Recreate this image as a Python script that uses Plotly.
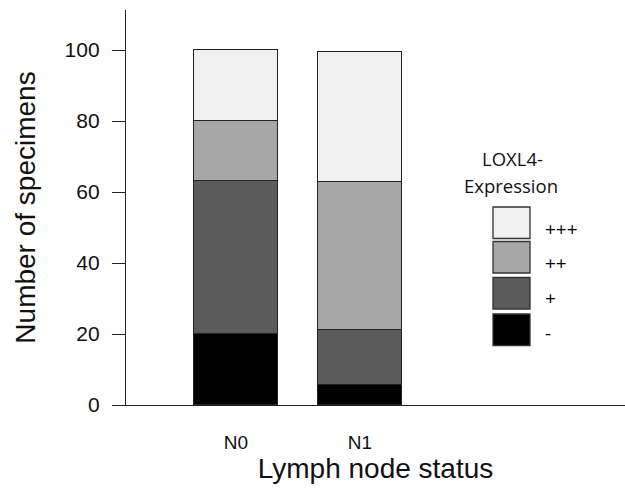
import plotly.graph_objects as go

categories = ["N0", "N1"]
levels = ["-", "+", "++", "+++"]
values_minus = [20.0, 5.6]
values_plus = [43.0, 15.5]
values_pp = [17.0, 41.8]
values_ppp = [20.0, 36.7]
colors = ["#000000", "#5b5b5b", "#a7a7a7", "#f0f0f0"]
y_ticks = [0, 20, 40, 60, 80, 100]

series = [values_minus, values_plus, values_pp, values_ppp]

fig = go.Figure()
for name, vals, col in zip(levels, series, colors):
    fig.add_trace(go.Bar(
        x=[0, 1], y=vals, name=name, width=0.68,
        marker=dict(color=col, line=dict(color="#222222", width=1.3)),
        showlegend=False,
    ))

# manual legend (large swatches)
L, R, T, B = 126, 625, 10, 405
W, H = R - L, B - T
def px(x): return (x - L) / W
def py(y): return (B - y) / H

box_tops = {"+++": 207, "++": 241.5, "+": 277.5, "-": 314}
label_y = {"+++": 229, "++": 263, "+": 298, "-": 333}
shapes = []
annotations = []
for name, col in zip(levels, colors):
    top = box_tops[name]
    shapes.append(dict(type="rect", xref="paper", yref="paper",
                       x0=px(493), x1=px(530), y0=py(top + 31.5), y1=py(top),
                       fillcolor=col, line=dict(color="#333333", width=1.3)))
    annotations.append(dict(text=name, xref="paper", yref="paper",
                            x=px(543), y=py(label_y[name]), xanchor="left", yanchor="middle",
                            showarrow=False, font=dict(family="Open Sans", size=19, color="#000000")))
annotations.append(dict(text="LOXL4-", xref="paper", yref="paper", x=px(512), y=py(158),
                        xanchor="center", yanchor="middle", showarrow=False,
                        font=dict(family="Open Sans", size=18.5, color="#111111")))
annotations.append(dict(text="Expression", xref="paper", yref="paper", x=px(511), y=py(185),
                        xanchor="center", yanchor="middle", showarrow=False,
                        font=dict(family="Open Sans", size=18.5, color="#111111")))

fig.update_layout(
    barmode="stack",
    width=625, height=497,
    margin=dict(l=L, r=625 - R, t=T, b=497 - B),
    paper_bgcolor="white", plot_bgcolor="white",
    shapes=shapes, annotations=annotations,
    bargap=0,
)
fig.update_xaxes(
    range=[-0.887, 3.137], tickmode="array", tickvals=[0, 1], ticktext=categories,
    showline=True, linecolor="#222222", linewidth=1.3, ticks="", showgrid=False, zeroline=False,
    tickfont=dict(family="Liberation Sans, Arial", size=19, color="#111111"),
    ticklabelstandoff=20,
    title=dict(text="Lymph node status", font=dict(family="Liberation Sans, Arial", size=28, color="#111111"), standoff=6),
)
fig.update_yaxes(
    range=[0, 111.3], tickvals=y_ticks, showline=True, linecolor="#222222", linewidth=1.3,
    ticks="outside", ticklen=13, tickcolor="#222222", tickwidth=1.3, showgrid=False, zeroline=False,
    tickfont=dict(family="Liberation Sans, Arial", size=21, color="#111111"),
    ticklabelstandoff=8,
    title=dict(text="Number of specimens", font=dict(family="Liberation Sans, Arial", size=28, color="#111111"), standoff=20),
)
fig.write_html("out.html", config={"displayModeBar": False},
               post_script="document.body.style.margin='0';document.body.style.overflow='hidden';")
